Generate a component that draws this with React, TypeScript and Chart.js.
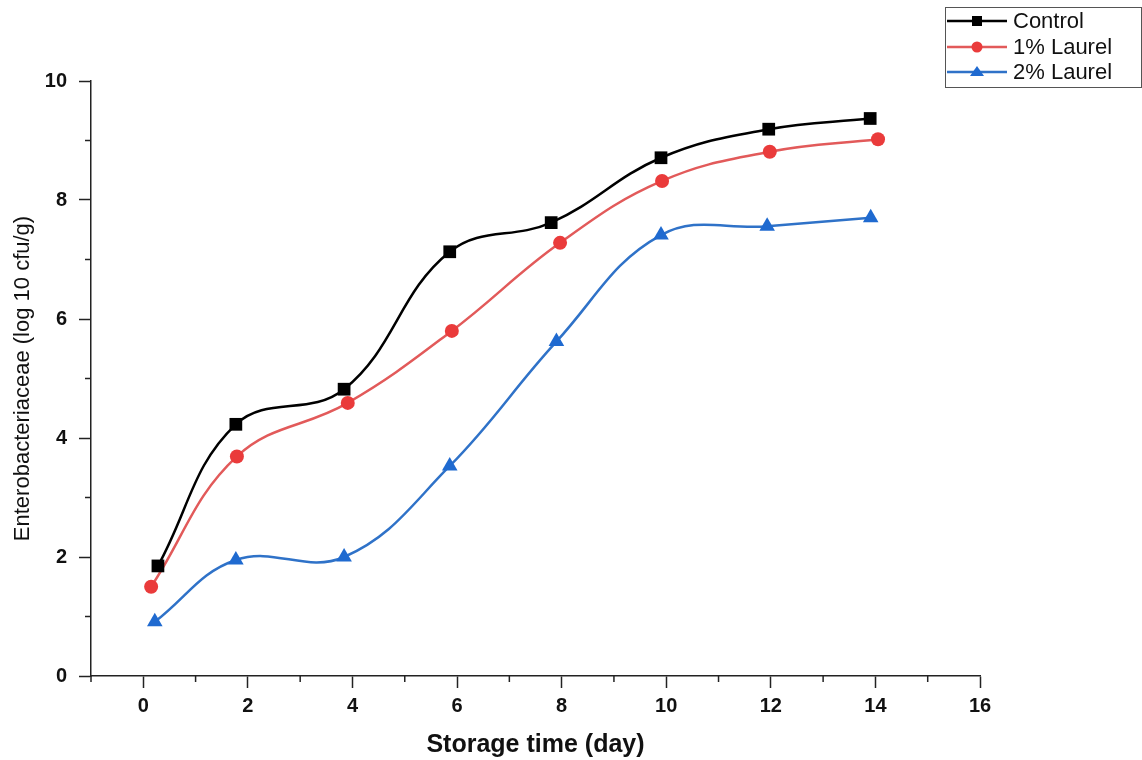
import React, { useEffect, useRef } from "react";
import { Chart, registerables } from "chart.js";

Chart.register(...registerables);

const seriesNames = ["Control", "1% Laurel", "2% Laurel"];
const controlDays = [0.28, 1.77, 3.84, 5.86, 7.8, 9.9, 11.96, 13.9];
const controlValues = [1.85, 4.23, 4.82, 7.13, 7.62, 8.71, 9.19, 9.37];
const laurel1Days = [0.15, 1.79, 3.91, 5.9, 7.97, 9.92, 11.98, 14.05];
const laurel1Values = [1.5, 3.69, 4.59, 5.8, 7.28, 8.32, 8.81, 9.02];
const laurel2Days = [0.22, 1.77, 3.84, 5.86, 7.9, 9.9, 11.93, 13.91];
const laurel2Values = [0.91, 1.95, 2.0, 3.53, 5.62, 7.41, 7.56, 7.7];

const xMin = -1;
const xMax = 16;
const yMin = 0;
const yMax = 10;
const xTitle = "Storage time (day)";
const yTitle = "Enterobacteriaceae (log 10 cfu/g)";

const lineColors = ["#000000", "#e25a5a", "#2f72c8"];
const markerColors = ["#000000", "#ea3b3b", "#1f6ad0"];
const markerStyles = ["rect", "circle", "triangle"];
const markerRadii = [9, 7, 9];

const FONT = "'Liberation Sans', Arial, sans-serif";
const AXIS_COLOR = "#222222";

const pairs = (xs: number[], ys: number[]) => xs.map((x, i) => ({ x, y: ys[i] }));

const minorTicks = {
  id: "minorTicks",
  afterDraw(chart: any) {
    const ctx = chart.ctx;
    const xs = chart.scales.x;
    const ys = chart.scales.y;
    ctx.save();
    ctx.strokeStyle = AXIS_COLOR;
    ctx.lineWidth = 1.5;
    for (let v = xMin; v <= xMax; v++) {
      if (Math.abs(v % 2) === 1) {
        const px = xs.getPixelForValue(v);
        ctx.beginPath();
        ctx.moveTo(px, xs.top);
        ctx.lineTo(px, xs.top + 6);
        ctx.stroke();
      }
    }
    for (let v = yMin; v <= yMax; v++) {
      if (v % 2 === 1) {
        const py = ys.getPixelForValue(v);
        ctx.beginPath();
        ctx.moveTo(ys.right, py);
        ctx.lineTo(ys.right - 6, py);
        ctx.stroke();
      }
    }
    ctx.restore();
  },
};

const boxLegend = {
  id: "boxLegend",
  afterDraw(chart: any) {
    const ctx = chart.ctx;
    ctx.save();
    ctx.strokeStyle = "#555555";
    ctx.lineWidth = 1;
    ctx.strokeRect(945.5, 7.5, 196, 80);
    const rows = [21, 47, 72];
    seriesNames.forEach((name, i) => {
      const y = rows[i];
      ctx.strokeStyle = lineColors[i];
      ctx.lineWidth = 2.5;
      ctx.beginPath();
      ctx.moveTo(947, y);
      ctx.lineTo(1007, y);
      ctx.stroke();
      ctx.fillStyle = markerColors[i];
      const cx = 977;
      if (markerStyles[i] === "rect") {
        ctx.fillRect(cx - 5, y - 5, 10, 10);
      } else if (markerStyles[i] === "circle") {
        ctx.beginPath();
        ctx.arc(cx, y, 5.5, 0, Math.PI * 2);
        ctx.fill();
      } else {
        ctx.beginPath();
        ctx.moveTo(cx, y - 6);
        ctx.lineTo(cx + 7, y + 4);
        ctx.lineTo(cx - 7, y + 4);
        ctx.closePath();
        ctx.fill();
      }
      ctx.fillStyle = "#111111";
      ctx.font = `22px ${FONT}`;
      ctx.textBaseline = "middle";
      ctx.textAlign = "left";
      ctx.fillText(name, 1013, y + 1);
    });
    ctx.restore();
  },
};

export default function App() {
  const canvasRef = useRef<HTMLCanvasElement | null>(null);

  useEffect(() => {
    const canvas = canvasRef.current;
    if (!canvas) return;
    const datasets = [
      pairs(controlDays, controlValues),
      pairs(laurel1Days, laurel1Values),
      pairs(laurel2Days, laurel2Values),
    ].map((data, i) => ({
      label: seriesNames[i],
      data,
      borderColor: lineColors[i],
      backgroundColor: markerColors[i],
      borderWidth: 2.5,
      pointStyle: markerStyles[i] as any,
      pointRadius: markerRadii[i],
      pointBackgroundColor: markerColors[i],
      pointBorderColor: markerColors[i],
      pointBorderWidth: 0,
      tension: 0.4,
      fill: false,
      clip: false as any,
    }));

    const tickColorFn = (c: any) =>
      c.tick && Math.abs(c.tick.value % 2) === 1 ? "rgba(0,0,0,0)" : AXIS_COLOR;

    const chart = new Chart(canvas, {
      type: "line",
      data: { datasets: datasets as any },
      plugins: [minorTicks, boxLegend],
      options: {
        animation: false,
        responsive: false,
        maintainAspectRatio: false,
        layout: { padding: { top: 81, right: 162, left: 0, bottom: 0 } },
        plugins: {
          legend: { display: false },
          tooltip: { enabled: false },
        },
        scales: {
          x: {
            type: "linear",
            min: xMin,
            max: xMax,
            afterFit: (s: any) => {
              s.height = 84;
            },
            ticks: {
              stepSize: 1,
              autoSkip: false,
              maxRotation: 0,
              color: "#111111",
              padding: 6,
              font: { family: FONT, size: 20, weight: "bold" },
              callback: (v: any) => (Number(v) % 2 === 0 ? String(v) : ""),
            },
            grid: {
              drawOnChartArea: false,
              tickLength: 12,
              tickWidth: 1.5,
              tickColor: tickColorFn,
            },
            border: { display: true, color: AXIS_COLOR, width: 1.5 },
            title: {
              display: true,
              text: xTitle,
              color: "#111111",
              font: { family: FONT, size: 25, weight: "bold" },
              padding: { top: 0, bottom: 0 },
            },
          },
          y: {
            type: "linear",
            min: yMin,
            max: yMax,
            afterFit: (s: any) => {
              s.width = 91;
            },
            ticks: {
              stepSize: 1,
              autoSkip: false,
              color: "#111111",
              padding: 12,
              font: { family: FONT, size: 20, weight: "bold" },
              callback: (v: any) => (Number(v) % 2 === 0 ? String(v) : ""),
            },
            grid: {
              drawOnChartArea: false,
              tickLength: 12,
              tickWidth: 1.5,
              tickColor: tickColorFn,
            },
            border: { display: true, color: AXIS_COLOR, width: 1.5 },
            title: {
              display: true,
              text: yTitle,
              color: "#111111",
              font: { family: FONT, size: 22, weight: "normal" },
              padding: { top: 10, bottom: 0 },
            },
          },
        },
      },
    });
    return () => chart.destroy();
  }, []);

  return (
    <canvas
      ref={canvasRef}
      width={1142}
      height={760}
      style={{ position: "absolute", left: 0, top: 0, width: 1142, height: 760, background: "#ffffff" }}
    />
  );
}
